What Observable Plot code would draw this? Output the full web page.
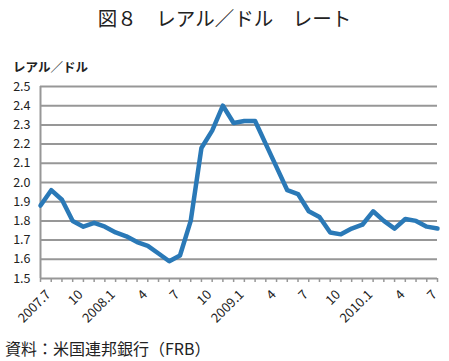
<!DOCTYPE html>
<html>
<head>
<meta charset="utf-8">
<script src="https://cdn.jsdelivr.net/npm/d3@7"></script>
<script src="https://cdn.jsdelivr.net/npm/@observablehq/plot@0.6"></script>
<style>
  html, body { margin: 0; padding: 0; background: #fff; }
  #wrap { position: relative; width: 449px; height: 361px; font-family: "Noto Sans CJK JP", sans-serif; color: #222; }
  #wrap svg { position: absolute; left: 0; top: 0; }
  .t { position: absolute; white-space: nowrap; line-height: 1; }
  #title { left: 0; width: 449px; text-align: center; top: 8px; font-size: 19.5px; font-weight: 400; }
  #unit { left: 13px; top: 61px; font-size: 12.5px; font-weight: 700; }
  #caption { left: 5px; top: 340px; font-size: 16px; }
</style>
</head>
<body>
<div id="wrap">
  <div class="t" id="title">図８　レアル／ドル　レート</div>
  <div class="t" id="unit">レアル／ドル</div>
  <div class="t" id="caption">資料：米国連邦銀行（FRB）</div>
</div>
<script>
// Months 2007.7 – 2010.8
const months = [
  "2007.7","2007.8","2007.9","2007.10","2007.11","2007.12",
  "2008.1","2008.2","2008.3","2008.4","2008.5","2008.6",
  "2008.7","2008.8","2008.9","2008.10","2008.11","2008.12",
  "2009.1","2009.2","2009.3","2009.4","2009.5","2009.6",
  "2009.7","2009.8","2009.9","2009.10","2009.11","2009.12",
  "2010.1","2010.2","2010.3","2010.4","2010.5","2010.6",
  "2010.7","2010.8"
];
// Real per dollar
const rate = [
  1.88, 1.96, 1.91, 1.80, 1.77, 1.79,
  1.77, 1.74, 1.72, 1.69, 1.67, 1.63,
  1.59, 1.62, 1.80, 2.18, 2.27, 2.40,
  2.31, 2.32, 2.32, 2.20, 2.08, 1.96,
  1.94, 1.85, 1.82, 1.74, 1.73, 1.76,
  1.78, 1.85, 1.80, 1.76, 1.81, 1.80,
  1.77, 1.76
];
const yTicks = [1.5, 1.6, 1.7, 1.8, 1.9, 2.0, 2.1, 2.2, 2.3, 2.4, 2.5];
const xLabelIndex = [0, 3, 6, 9, 12, 15, 18, 21, 24, 27, 30, 33, 36];
const xLabels = ["2007.7","10","2008.1","4","7","10","2009.1","4","7","10","2010.1","4","7"];

const data = months.map((m, i) => ({ i, m, v: rate[i] }));
const monthIndex = months.map((m, i) => i);
const gridColor = "#979797";

const chart = Plot.plot({
  width: 449,
  height: 361,
  marginLeft: 40,
  marginRight: 12,
  marginTop: 86,
  marginBottom: 83,
  x: { type: "linear", domain: [0, months.length - 1] },
  y: { domain: [1.5, 2.5] },
  style: { fontFamily: "'Noto Sans CJK JP', sans-serif", fontSize: "12.5px", color: "#222", background: "transparent" },
  marks: [
    Plot.ruleY(yTicks, { stroke: gridColor, strokeWidth: 2 }),
    Plot.ruleX([0], { stroke: gridColor, strokeWidth: 2 }),
    Plot.axisX(monthIndex, { tickSize: 4, tickFormat: () => "", stroke: gridColor, strokeWidth: 1.5, label: null }),
    Plot.axisX(xLabelIndex, {
      tickSize: 0, tickPadding: 14, tickRotate: -45, label: null,
      tickFormat: i => xLabels[xLabelIndex.indexOf(i)],
      fontSize: 13, dx: 8
    }),
    Plot.axisY(yTicks, { tickSize: 0, tickPadding: 10, tickFormat: d3.format(".1f"), label: null, fontSize: 12.5 }),
    Plot.line(data, { x: "i", y: "v", stroke: "#2a79b7", strokeWidth: 4.5 })
  ]
});
document.getElementById("wrap").prepend(chart);
</script>
</body>
</html>
